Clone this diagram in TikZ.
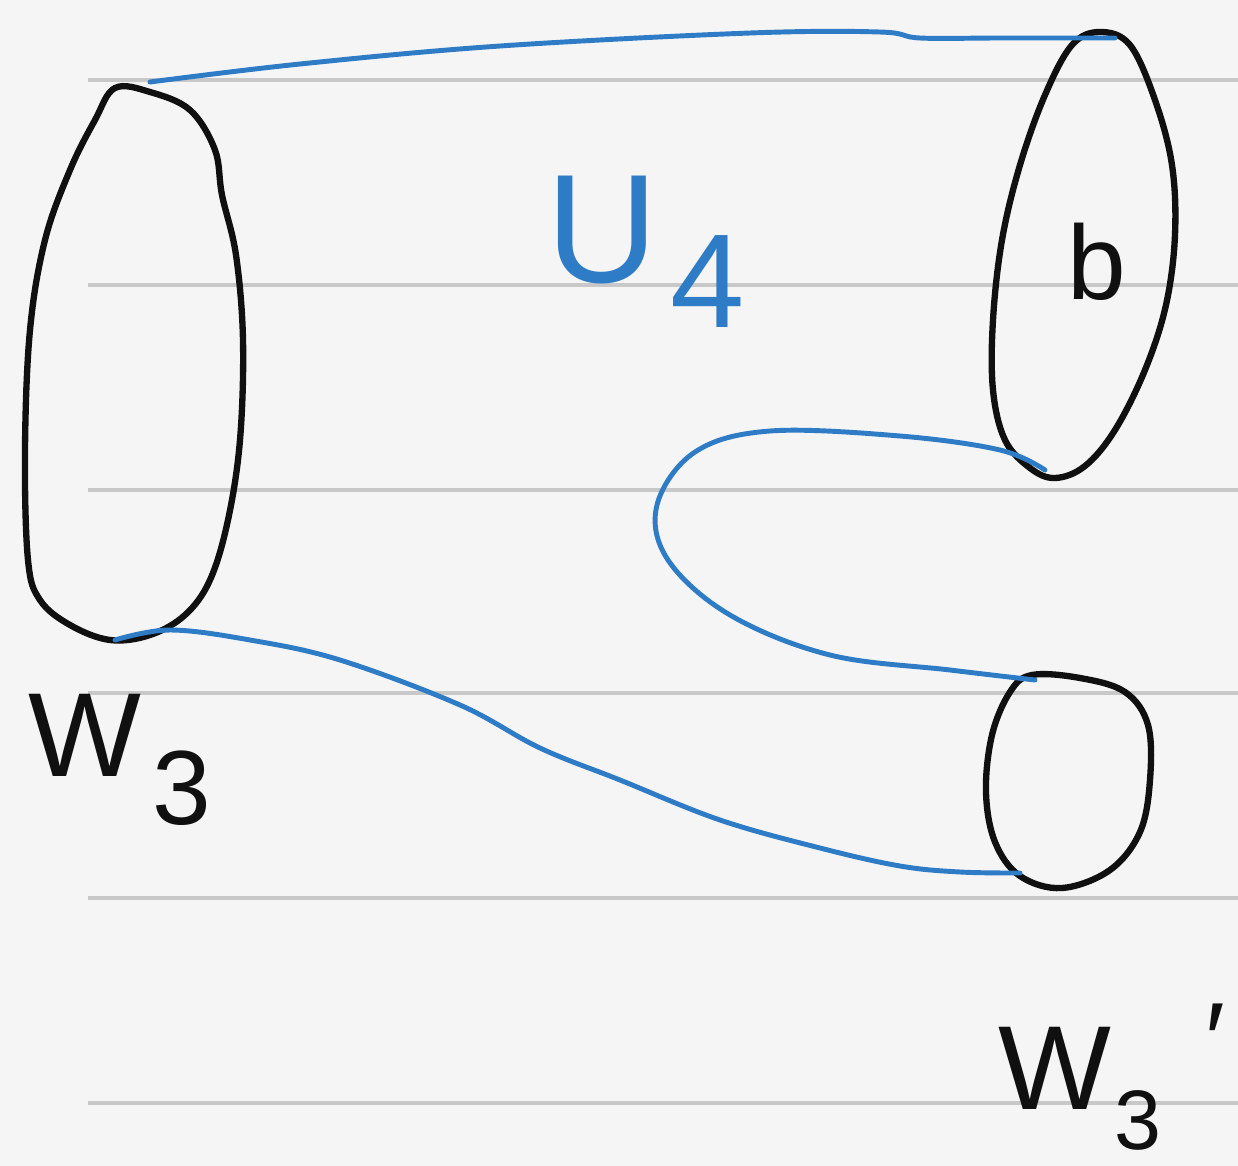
\documentclass[tikz,border=0pt]{standalone}
\usepackage{fontspec}
\setmainfont{Liberation Sans}
\definecolor{paper}{HTML}{F5F5F5}
\definecolor{rule}{HTML}{C8C8C8}
\definecolor{ink}{HTML}{101010}
\definecolor{pen}{HTML}{2E7BC6}
\begin{document}
\begin{tikzpicture}[x=0.01cm,y=-0.01cm,
  ruled/.style={rule, line width=0.9pt},
  blob/.style={ink, line width=1.8pt, line join=round, line cap=round},
  wire/.style={pen, line width=1.4pt, line cap=round},
  blk/.style={ink, inner sep=0pt, font=\fontsize{34}{34}\selectfont},
  blu/.style={pen, inner sep=0pt, font=\fontsize{44}{44}\selectfont}]
\fill[paper] (0,0) rectangle (1238,1166);
\useasboundingbox (0,0) rectangle (1238,1166);
\foreach \yy in {80,285,490,693,898,1103} \draw[ruled] (88,\yy) -- (1238,\yy);
% shapes
\draw[blob] plot[smooth cycle, tension=0.6] coordinates {(115,88) (150,92) (190,110) (215,150) (222,195) (236,255) (243,340) (240,440) (228,520) (210,580) (185,615) (150,635) (110,640) (70,625) (40,600) (28,560) (25,450) (30,330) (45,240) (70,170) (95,120)};
\draw[blob] plot[smooth cycle, tension=0.6] coordinates {(1100,32) (1130,45) (1155,100) (1172,165) (1175,235) (1166,305) (1145,370) (1115,430) (1085,466) (1055,478) (1030,468) (1005,440) (993,390) (993,320) (1002,240) (1020,165) (1045,95) (1072,45)};
\draw[blob] plot[smooth cycle, tension=0.6] coordinates {(1032,675) (1080,678) (1125,692) (1148,725) (1150,780) (1140,832) (1110,870) (1062,888) (1020,876) (995,842) (986,792) (992,735) (1010,692)};
\coordinate (a1) at (150,82);
\coordinate (a2) at (1115,38);
\coordinate (b1) at (115,640);
\coordinate (b2) at (1020,873);
\coordinate (c1) at (1045,470);
\coordinate (c2) at (1035,680);
% connectors
\draw[wire] plot[smooth, tension=0.6] coordinates {(a1) (300,64) (500,46) (750,33) (880,32) (920,38) (1000,38) (a2)};
\draw[wire] plot[smooth, tension=0.6] coordinates {(b1) (170,630) (250,640) (340,660) (460,705) (540,748) (620,780) (720,820) (820,848) (900,866) (960,872) (b2)};
\draw[wire] plot[smooth, tension=0.6] coordinates {(c1) (1000,450) (900,436) (770,431) (695,452) (657,505) (668,560) (730,615) (830,655) (950,670) (c2)};
% labels
\node[blu] (u) at (602,230) {U};
\node[blu, font=\fontsize{38}{38}\selectfont] (u4) at (708,282) {4};
\node[blk, font=\fontsize{30}{30}\selectfont] (b) at (1097,262) {b};
\node[blk] (w) at (85,735) {W};
\node[blk, font=\fontsize{30}{30}\selectfont] (w3) at (182,788) {3};
\node[blk] (wp) at (1055,1068) {W};
\node[blk, font=\fontsize{24}{24}\selectfont] (wp3) at (1138,1120) {3};
\node[blk, font=\fontsize{30}{30}\selectfont] (prime) at (1215,1040) {′};
\end{tikzpicture}
\end{document}
